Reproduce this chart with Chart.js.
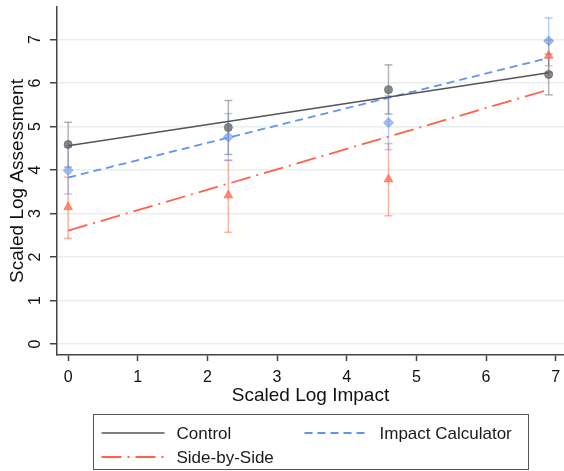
<!DOCTYPE html>
<html>
<head>
<meta charset="utf-8">
<script src="https://cdn.jsdelivr.net/npm/chart.js@4.4.0/dist/chart.umd.min.js"></script>
<style>
  html, body { margin: 0; padding: 0; background: #fff; }
  #wrap { width: 564px; height: 471px; }
</style>
</head>
<body>
<div id="wrap"><canvas id="chart"></canvas></div>
<script>
// impact levels where each group was measured (scaled log impact)
const impactLevels = [0, 2.3, 4.6, 6.9];

// group means
const controlMean = [4.59, 4.98, 5.85, 6.20];
const calculatorMean = [3.99, 4.76, 5.09, 6.97];
const sideMean = [3.15, 3.42, 3.79, 6.63];

// confidence interval bounds
const controlLow = [4.07, 4.36, 5.29, 5.73];
const controlHigh = [5.10, 5.60, 6.42, 6.67];
const calculatorLow = [3.45, 4.22, 4.47, 6.40];
const calculatorHigh = [4.53, 5.30, 5.71, 7.50];
const sideLow = [2.43, 2.57, 2.95, 6.25];
const sideHigh = [3.84, 4.23, 4.61, 6.99];

// fitted lines: value at the first and last impact level
const fitEnds = [0, 6.9];
const controlFit = [4.56, 6.24];
const calculatorFit = [3.83, 6.58];
const sideFit = [2.61, 5.85];

const xTicks = [0, 1, 2, 3, 4, 5, 6, 7];
const yTicks = [0, 1, 2, 3, 4, 5, 6, 7];

const FONT = '"Liberation Sans", Arial, sans-serif';

function points(xs, ys) {
  return xs.map((x, i) => ({ x: x, y: ys[i] }));
}

// each CI becomes a vertical segment, separated by a null gap
function errorBars(lo, hi) {
  const out = [];
  impactLevels.forEach((x, i) => {
    out.push({ x: x, y: lo[i] }, { x: x, y: hi[i] }, { x: x, y: null });
  });
  return out;
}

function ciSet(lo, hi, color) {
  return {
    type: 'line', data: errorBars(lo, hi), order: 3, isCi: true,
    borderColor: color, borderWidth: 1.5, spanGaps: false, fill: false,
    pointStyle: 'line', pointRadius: 4, pointBorderColor: color,
    pointBorderWidth: 1.5, pointHoverRadius: 4
  };
}

// legend drawn as a boxed two-column key, like the original
const legendBox = {
  id: 'legendBox',
  afterDraw(chart) {
    const { ctx, chartArea } = chart;
    const fits = chart.data.datasets.filter(d => d.isFit);
    const w = 435, h = 55;
    const left = Math.round((chartArea.left + chartArea.right) / 2 - w / 2) + 0.5;
    const top = chart.height - 57 + 0.5;
    const slots = [[0, 0], [1, 0], [0, 1]];
    ctx.save();
    ctx.strokeStyle = '#555';
    ctx.lineWidth = 1;
    ctx.strokeRect(left, top, w, h);
    fits.forEach((d, i) => {
      const lx = left + 8 + slots[i][0] * 203;
      const ly = Math.round(top + 18 + slots[i][1] * 24);
      ctx.strokeStyle = d.borderColor;
      ctx.lineWidth = d.borderWidth;
      ctx.setLineDash(d.borderDash || []);
      ctx.beginPath();
      ctx.moveTo(lx, ly);
      ctx.lineTo(lx + 63, ly);
      ctx.stroke();
      ctx.setLineDash([]);
      ctx.fillStyle = '#1a1a1a';
      ctx.font = '17px ' + FONT;
      ctx.textBaseline = 'middle';
      ctx.textAlign = 'left';
      ctx.fillText(d.label, lx + 75, ly + 1);
    });
    ctx.restore();
  }
};

const ctx = document.getElementById('chart').getContext('2d');
new Chart(ctx, {
  type: 'scatter',
  data: {
    datasets: [
      ciSet(controlLow, controlHigh, 'rgba(120,120,120,0.55)'),
      ciSet(calculatorLow, calculatorHigh, 'rgba(100,149,237,0.45)'),
      ciSet(sideLow, sideHigh, 'rgba(255,99,71,0.5)'),
      {
        type: 'scatter', label: 'Control mean', data: points(impactLevels, controlMean), order: 2,
        pointStyle: 'circle', pointRadius: 4, backgroundColor: 'rgba(100,100,100,0.75)',
        borderColor: 'rgba(100,100,100,0.75)', borderWidth: 1
      },
      {
        type: 'scatter', label: 'Impact Calculator mean', data: points(impactLevels, calculatorMean), order: 2,
        pointStyle: 'rectRot', pointRadius: 5, backgroundColor: 'rgba(100,149,237,0.6)',
        borderColor: 'rgba(100,149,237,0.6)', borderWidth: 1
      },
      {
        type: 'scatter', label: 'Side-by-Side mean', data: points(impactLevels, sideMean), order: 2,
        pointStyle: 'triangle', pointRadius: 5, backgroundColor: 'rgba(255,99,71,0.7)',
        borderColor: 'rgba(255,99,71,0.7)', borderWidth: 1
      },
      {
        type: 'line', label: 'Control', data: points(fitEnds, controlFit), order: 1, isFit: true,
        borderColor: '#555555', borderWidth: 1.5, pointRadius: 0, fill: false
      },
      {
        type: 'line', label: 'Impact Calculator', data: points(fitEnds, calculatorFit), order: 1, isFit: true,
        borderColor: '#6495ED', borderWidth: 1.8, borderDash: [8, 5], pointRadius: 0, fill: false
      },
      {
        type: 'line', label: 'Side-by-Side', data: points(fitEnds, sideFit), order: 1, isFit: true,
        borderColor: '#FF6347', borderWidth: 1.8, borderDash: [20, 6, 2, 6], pointRadius: 0, fill: false
      }
    ]
  },
  options: {
    responsive: true,
    maintainAspectRatio: false,
    animation: false,
    devicePixelRatio: 1,
    layout: { autoPadding: false, padding: { top: 7, right: 0, bottom: 64, left: 0 } },
    plugins: {
      legend: { display: false },
      tooltip: { enabled: false }
    },
    scales: {
      x: {
        type: 'linear', min: -0.16, max: 7.12,
        afterBuildTicks: s => { s.ticks = xTicks.map(v => ({ value: v })); },
        afterFit: s => { s.height = 52; s.paddingLeft = 0; s.paddingRight = 0; },
        grid: { display: true, drawOnChartArea: false, drawTicks: true, tickLength: 6, tickColor: '#444', tickWidth: 1.5 },
        border: { display: true, color: '#444', width: 1.5 },
        ticks: { color: '#111', font: { size: 16, family: FONT }, padding: 7, maxRotation: 0 },
        title: { display: true, text: 'Scaled Log Impact', color: '#111', font: { size: 19, family: FONT }, padding: { top: 0, bottom: 0 } }
      },
      y: {
        type: 'linear', min: -0.25, max: 7.75,
        afterBuildTicks: s => { s.ticks = yTicks.map(v => ({ value: v })); },
        afterFit: s => { s.width = 57; s.paddingTop = 0; s.paddingBottom = 0; },
        grid: { display: true, color: '#e8eff1', lineWidth: 1.5, drawTicks: true, tickLength: 7, tickColor: '#444', tickWidth: 1.5 },
        border: { display: true, color: '#444', width: 1.5 },
        ticks: { color: '#111', font: { size: 16, family: FONT }, padding: 10, minRotation: 90, maxRotation: 90, crossAlign: 'center' },
        title: { display: true, text: 'Scaled Log Assessment', color: '#111', font: { size: 19, family: FONT }, padding: { top: 6, bottom: 0 } }
      }
    }
  },
  plugins: [legendBox]
});
</script>
</body>
</html>
